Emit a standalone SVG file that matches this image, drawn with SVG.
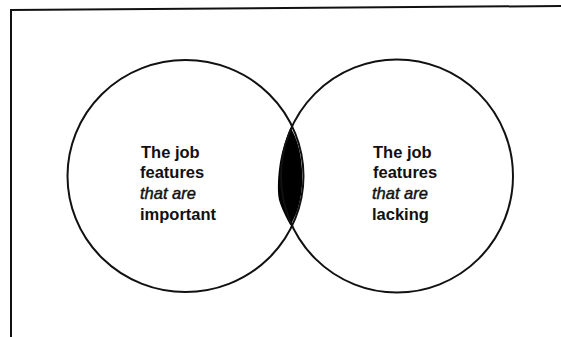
<svg xmlns="http://www.w3.org/2000/svg" width="561" height="337" viewBox="0 0 561 337">
  <style>
    .frame { fill: none; stroke: #111; stroke-width: 2; stroke-linecap: square; }
    .ring { fill: none; stroke: #111; stroke-width: 2; }
    .label { font-family: "Liberation Sans", Arial, sans-serif; font-size: 16.5px; fill: #111; }
    .b { font-weight: bold; }
    .i { font-style: italic; stroke: #111; stroke-width: 0.45; }
  </style>
  <rect width="561" height="337" fill="#fff"/>

  <!-- open frame: top and left edges -->
  <g id="frame">
    <path class="frame" d="M11,10 L561,6"/>
    <path class="frame" d="M11,10 L11,337"/>
  </g>

  <!-- shared region of the two sets -->
  <g id="overlap">
    <path fill="#000" d="M290.5,127.5 C296,137 301,150 302,170 C303,185 301,198 298,208 C296,215 293,220 290.5,225.5 C287,219 282,210 279,200 C277,190 278,175 280,162 C282,150 286,138 290.5,127.5 Z"/>
  </g>

  <g id="important">
    <ellipse class="ring" cx="185.5" cy="176" rx="118" ry="116"/>
    <text class="label b" x="141" y="157.5">The job</text>
    <text class="label b" x="140" y="178">features</text>
    <text class="label i" x="140" y="199">that are</text>
    <text class="label b" x="140" y="220">important</text>
  </g>

  <g id="lacking">
    <ellipse class="ring" cx="397" cy="176" rx="116" ry="116.5"/>
    <text class="label b" x="373" y="157.5">The job</text>
    <text class="label b" x="373" y="178">features</text>
    <text class="label i" x="372" y="199">that are</text>
    <text class="label b" x="372" y="220">lacking</text>
  </g>
</svg>
